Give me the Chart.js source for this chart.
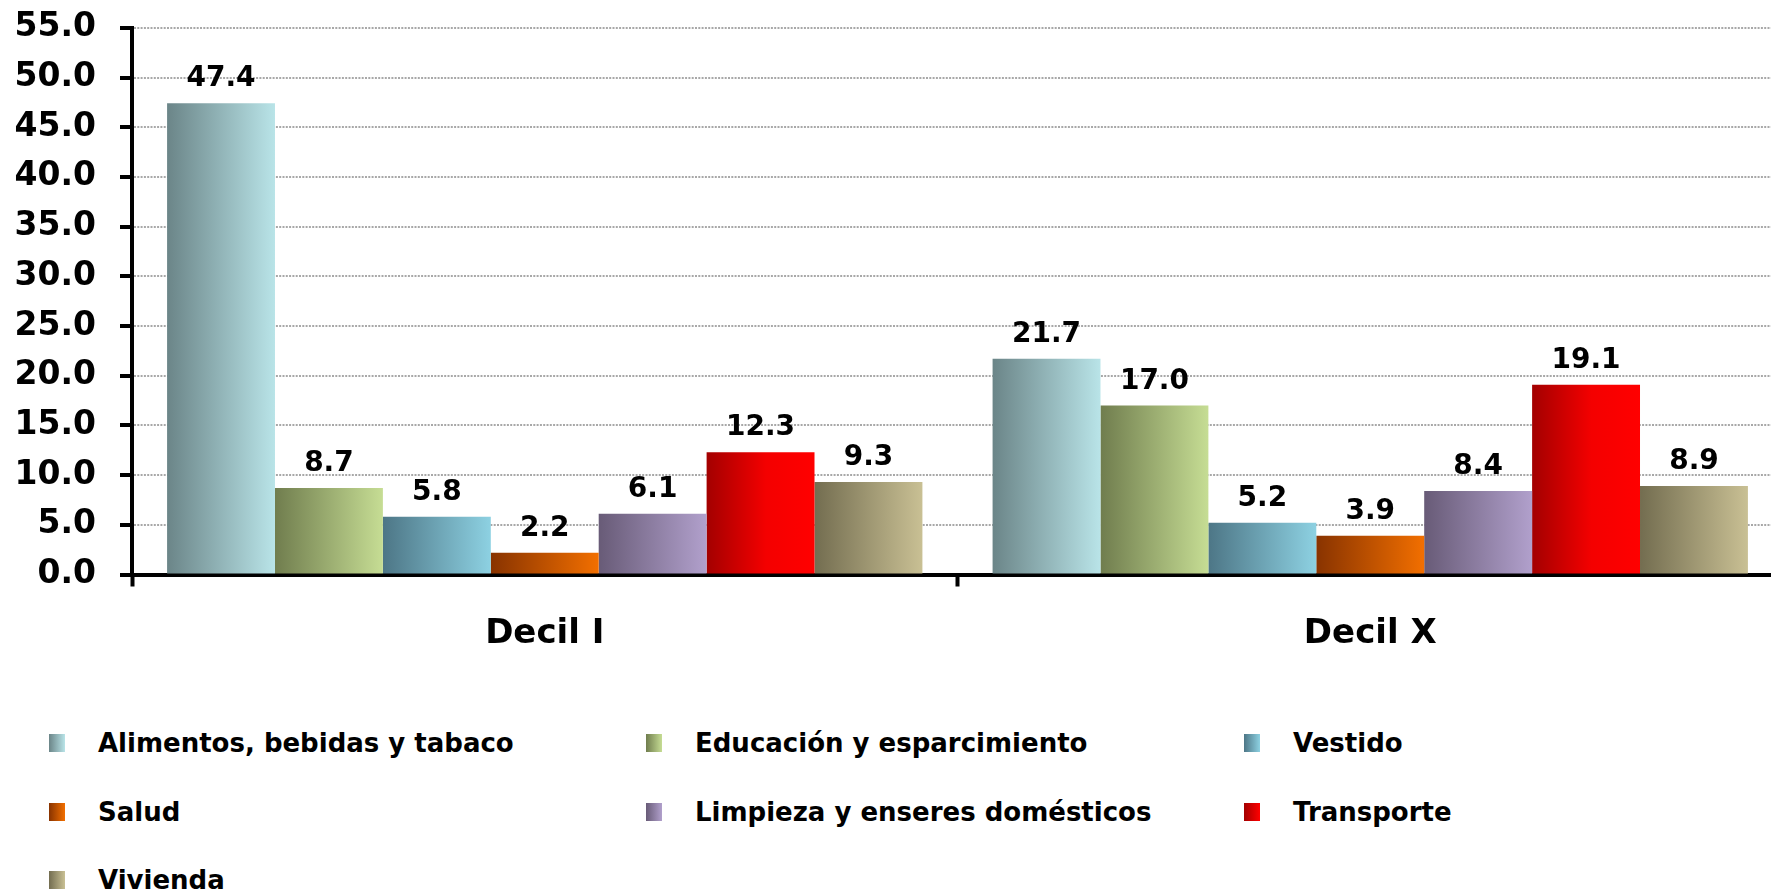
<!DOCTYPE html>
<html>
<head>
<meta charset="utf-8">
<script src="https://cdn.jsdelivr.net/npm/chart.js@4/dist/chart.umd.min.js"></script>
<style>
  html, body { margin: 0; padding: 0; background: #fff; overflow: hidden; }
  #wrap { position: relative; width: 1771px; height: 891px; overflow: hidden; }
  #chart { position: absolute; left: 0; top: -16px; }
  .leg { position: absolute; height: 30px; line-height: 30px; white-space: nowrap;
         font: bold 26px 'DejaVu Sans', sans-serif; color: #000; }
  .leg i { position: absolute; left: 0; top: 6px; width: 16px; height: 18px; }
  .leg span { position: absolute; top: 0; }
</style>
</head>
<body>
<div id="wrap">
  <canvas id="chart" width="1800" height="700"></canvas>
  <div id="legend"></div>
</div>
<script>
// categories and series
const categories = ['Decil I', 'Decil X'];
const seriesNames = [
  'Alimentos, bebidas y tabaco',
  'Educación y esparcimiento',
  'Vestido',
  'Salud',
  'Limpieza y enseres domésticos',
  'Transporte',
  'Vivienda'
];
const alimentos = [47.4, 21.7];
const educacion = [8.7, 17.0];
const vestido = [5.8, 5.2];
const salud = [2.2, 3.9];
const limpieza = [6.1, 8.4];
const transporte = [12.3, 19.1];
const vivienda = [9.3, 8.9];
const yMin = 0, yMax = 55, yStep = 5;

// left (dark) -> right (light) colours of each bar
const gradStops = [
  ['#6b8588', '#b9e4e8'],
  ['#707d4e', '#c6dd94'],
  ['#4d7686', '#8dd1e2'],
  ['#883300', '#f26f00'],
  ['#685b77', '#b1a0cc'],
  ['#a30000', '#ff0000'],
  ['#736d50', '#c9c094']
];

const seriesValues = [alimentos, educacion, vestido, salud, limpieza, transporte, vivienda];
const CAT_PCT = 0.915;

function barColor(c) {
  const stops = gradStops[c.datasetIndex];
  const xs = c.chart.scales.x;
  if (c.type !== 'data' || !xs) return stops[1];
  const groupW = xs.width / categories.length * CAT_PCT;
  const bw = groupW / seriesNames.length;
  const left = xs.getPixelForValue(c.dataIndex) - groupW / 2 + c.datasetIndex * bw;
  if (!isFinite(left) || !isFinite(bw) || bw <= 0) return stops[1];
  const g = c.chart.ctx.createLinearGradient(left, 0, left + bw, 0);
  g.addColorStop(0, stops[0]);
  if (c.datasetIndex === 5) g.addColorStop(0.55, '#f40000');
  g.addColorStop(1, stops[1]);
  return g;
}

const valueLabels = {
  id: 'valueLabels',
  afterDatasetsDraw(chart) {
    const ctx = chart.ctx;
    ctx.save();
    ctx.font = 'bold 28px "DejaVu Sans"';
    ctx.fillStyle = '#000';
    ctx.textAlign = 'center';
    ctx.textBaseline = 'alphabetic';
    chart.data.datasets.forEach((ds, i) => {
      chart.getDatasetMeta(i).data.forEach((el, j) => {
        ctx.fillText(ds.data[j].toFixed(1), el.x, el.y - 17);
      });
    });
    ctx.restore();
  }
};

Chart.defaults.font.family = 'DejaVu Sans';

// canvas sits 16px above the page top, so the x axis is at 590.5 in canvas pixels
const AXIS_Y = 590.5;

new Chart(document.getElementById('chart'), {
  type: 'bar',
  data: {
    labels: categories,
    datasets: seriesNames.map((name, i) => ({
      label: name,
      data: seriesValues[i],
      backgroundColor: barColor,
      borderWidth: 0,
      barPercentage: 1,
      categoryPercentage: CAT_PCT
    }))
  },
  options: {
    responsive: false,
    animation: false,
    layout: { padding: { top: 12, right: 17, left: 0, bottom: 0 } },
    plugins: { legend: { display: false }, tooltip: { enabled: false } },
    scales: {
      x: {
        afterFit: s => { s.height = 700 - AXIS_Y; },
        grid: { display: true, drawOnChartArea: false, offset: true, tickLength: 12, tickWidth: 4, tickColor: '#000' },
        border: { color: '#000', width: 4 },
        ticks: { color: '#000', padding: 27, font: { size: 34, weight: 'bold' } }
      },
      y: {
        min: yMin, max: yMax,
        afterFit: s => { s.width = 132; },
        grid: { color: '#a8a8a8', lineWidth: 2, tickLength: 12, tickWidth: 4, tickColor: '#000', tickBorderDash: [] },
        border: { color: '#000', width: 4, dash: [2, 1.3] },
        ticks: { stepSize: yStep, color: '#000', padding: 24, font: { size: 33, weight: 'bold' },
                 callback: v => v.toFixed(1) }
      }
    }
  },
  plugins: [valueLabels]
});

// legend in a 3 column grid
const legCols = [49, 646, 1244];
const legRows = [728, 797, 865];
const legend = document.getElementById('legend');
seriesNames.forEach((name, i) => {
  const d = document.createElement('div');
  d.className = 'leg';
  d.style.left = legCols[i % 3] + 'px';
  d.style.top = legRows[Math.floor(i / 3)] + 'px';
  d.innerHTML = '<i style="background:linear-gradient(to right,' + gradStops[i][0] + ',' + gradStops[i][1] + ')"></i>' +
                '<span style="left:49px">' + name + '</span>';
  legend.appendChild(d);
});
</script>
</body>
</html>
